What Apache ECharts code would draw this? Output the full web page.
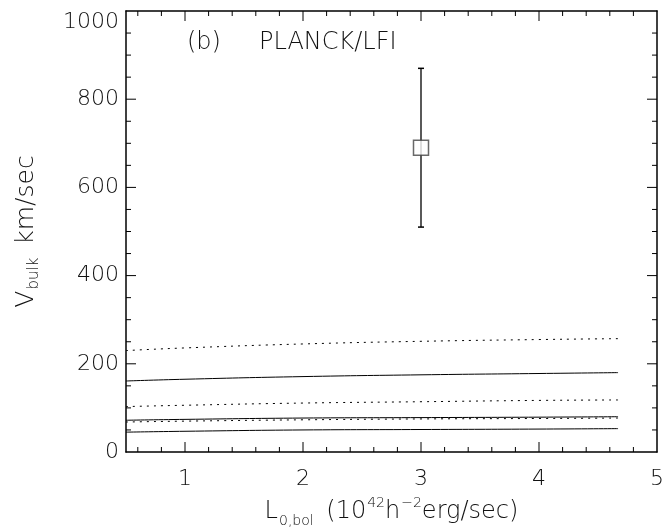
<!DOCTYPE html>
<html><head><meta charset="utf-8">
<script src="https://cdn.jsdelivr.net/npm/echarts@6/dist/echarts.min.js"></script>
<style>html,body{margin:0;padding:0;background:#fff}#c{width:667px;height:531px}</style>
</head><body><div id="c"></div>
<script>
// ---- data ----
const xs        = [0.5, 1, 2, 3, 4, 4.67];
const solidLow  = [45, 47, 50, 51, 52, 53];
const solidMid  = [72, 74, 77, 78, 79, 80];
const solidHigh = [161, 165, 171, 175, 178, 180];
const dotLow    = [68, 70, 73, 75, 76, 77];
const dotMid    = [103, 106, 111, 114, 117, 118];
const dotHigh   = [230, 236, 245, 251, 255, 257];
const pointX = [3];
const pointY = [690];
const errLow = [510];
const errHigh = [870];
// tick values
const xMajorTicks = [1, 2, 3, 4];
const xMinorTicks = [0.6,0.8,1.2,1.4,1.6,1.8,2.2,2.4,2.6,2.8,3.2,3.4,3.6,3.8,4.2,4.4,4.6,4.8];
const yMajorTicks = [200, 400, 600, 800];
const yMinorTicks = [50,100,150,250,300,350,450,500,550,650,700,750,850,900,950];
const panelLabel = '(b)';
const panelName = 'PLANCK/LFI';

const FONT = 'DejaVu Sans';
const FW = 200;
const TXT = '#111';
const pairs = a => xs.map((x,i)=>[x,a[i]]);
const XMIN = 0.5, XMAX = 5, YMIN = 0, YMAX = 1000;

const chart = echarts.init(document.getElementById('c'), null, {renderer:'canvas'});
const axisLine = {show:true, onZero:false, lineStyle:{color:'#000', width:1.5}};
const xBase = {type:'value', min:XMIN, max:XMAX, splitNumber:5, splitLine:{show:false},
  axisLine, axisTick:{show:false}, minorTick:{show:false}};
const yBase = {type:'value', min:YMIN, max:YMAX, interval:200, splitLine:{show:false},
  axisLine, axisTick:{show:false}, minorTick:{show:false}};

function lineSeries(data, dotted){
  return {type:'line', data:pairs(data), showSymbol:false, symbol:'none', smooth:true,
    lineStyle:{color:'#000', width:1, type: dotted ? [2,5] : 'solid'}, silent:true, z:3};
}
function xTickSeries(vals, len){
  return {type:'custom', silent:true, clip:false, z:4, data: vals.map(v=>[v]),
    renderItem:(params, api)=>{
      const v = api.value(0);
      const b = api.coord([v,YMIN]);
      const t = api.coord([v,YMAX]);
      return {type:'group', children:[
        {type:'line', shape:{x1:b[0], y1:b[1], x2:b[0], y2:b[1]-len}, style:{stroke:'#000', lineWidth:1}},
        {type:'line', shape:{x1:t[0], y1:t[1], x2:t[0], y2:t[1]+len}, style:{stroke:'#000', lineWidth:1}}
      ]};
    }};
}
function yTickSeries(vals, len){
  return {type:'custom', silent:true, clip:false, z:4, data: vals.map(v=>[XMIN, v]),
    renderItem:(params, api)=>{
      const v = api.value(1);
      const l = api.coord([XMIN,v]);
      const r = api.coord([XMAX,v]);
      return {type:'group', children:[
        {type:'line', shape:{x1:l[0], y1:l[1], x2:l[0]+len, y2:l[1]}, style:{stroke:'#000', lineWidth:1}},
        {type:'line', shape:{x1:r[0], y1:r[1], x2:r[0]-len, y2:r[1]}, style:{stroke:'#000', lineWidth:1}}
      ]};
    }};
}
const labelStyle = {fontFamily:FONT, fontWeight:FW, fontSize:22, color:TXT};

chart.setOption({
  animation:false,
  grid:{left:126, right:10, top:11, bottom:79, containLabel:false, outerBoundsMode:'none'},
  xAxis:[
    Object.assign({}, xBase, {position:'bottom',
      name:'{b|L}{sub|0,bol}{b| (10}{sup|42}{b|h}{sup|−2}{b|erg/sec)}',
      nameLocation:'middle', nameGap:44,
      nameTextStyle:{fontFamily:FONT, fontWeight:FW, color:TXT,
        rich:{
          b:{fontSize:24, fontFamily:FONT, fontWeight:FW, color:TXT, lineHeight:32},
          sub:{fontSize:14, fontFamily:FONT, fontWeight:FW, color:TXT, lineHeight:14, verticalAlign:'bottom', padding:[0,5,0,1]},
          sup:{fontSize:14, fontFamily:FONT, fontWeight:FW, color:TXT, lineHeight:14, verticalAlign:'top', padding:[0,0,0,1]}
        }},
      axisLabel:Object.assign({show:true, margin:16,
        formatter:v => Math.abs(v-Math.round(v))<1e-6 ? String(Math.round(v)) : ''}, labelStyle)}),
    Object.assign({}, xBase, {position:'top', axisLabel:{show:false}})
  ],
  yAxis:[
    Object.assign({}, yBase, {position:'left',
      name:'{b|V}{sub|bulk}{b| km/sec}',
      nameLocation:'middle', nameGap:84, nameRotate:90,
      nameTextStyle:{fontFamily:FONT, fontWeight:FW, color:TXT,
        rich:{
          b:{fontSize:25, fontFamily:FONT, fontWeight:FW, color:TXT, lineHeight:32},
          sub:{fontSize:15, fontFamily:FONT, fontWeight:FW, color:TXT, lineHeight:14, verticalAlign:'bottom', padding:[0,5,0,1]}
        }},
      axisLabel:Object.assign({show:true, margin:7, verticalAlignMaxLabel:'top',
        formatter:v => String(v)}, labelStyle)}),
    Object.assign({}, yBase, {position:'right', axisLabel:{show:false}})
  ],
  graphic:[
    {type:'text', left:187, top:31, style:{text:panelLabel, fontFamily:FONT, fontWeight:FW, fontSize:24, fill:TXT}},
    {type:'text', left:259, top:31, style:{text:panelName, fontFamily:FONT, fontWeight:FW, fontSize:24, fill:TXT}}
  ],
  series:[
    lineSeries(solidLow,false),
    lineSeries(solidMid,false),
    lineSeries(solidHigh,false),
    lineSeries(dotLow,true),
    lineSeries(dotMid,true),
    lineSeries(dotHigh,true),
    xTickSeries(xMajorTicks, 10),
    xTickSeries(xMinorTicks, 5),
    yTickSeries(yMajorTicks, 10),
    yTickSeries(yMinorTicks, 5),
    {type:'custom', silent:true, z:5,
     data: pointX.map((x,i)=>[x, errLow[i], errHigh[i]]),
     renderItem:(params, api)=>{
       const lo = api.coord([api.value(0), api.value(1)]);
       const hi = api.coord([api.value(0), api.value(2)]);
       const w = 3;
       return {type:'group', children:[
         {type:'line', shape:{x1:lo[0], y1:lo[1], x2:hi[0], y2:hi[1]}, style:{stroke:'#000', lineWidth:1.3}},
         {type:'line', shape:{x1:lo[0]-w, y1:lo[1], x2:lo[0]+w, y2:lo[1]}, style:{stroke:'#000', lineWidth:1.5}},
         {type:'line', shape:{x1:hi[0]-w, y1:hi[1], x2:hi[0]+w, y2:hi[1]}, style:{stroke:'#000', lineWidth:1.5}}
       ]};
     }},
    {type:'scatter', silent:true, z:6, data: pointX.map((x,i)=>[x,pointY[i]]),
     symbol:'rect', symbolSize:15,
     itemStyle:{color:'#fff', borderColor:'#444', borderWidth:1.5}}
  ]
});
</script>
</body></html>
